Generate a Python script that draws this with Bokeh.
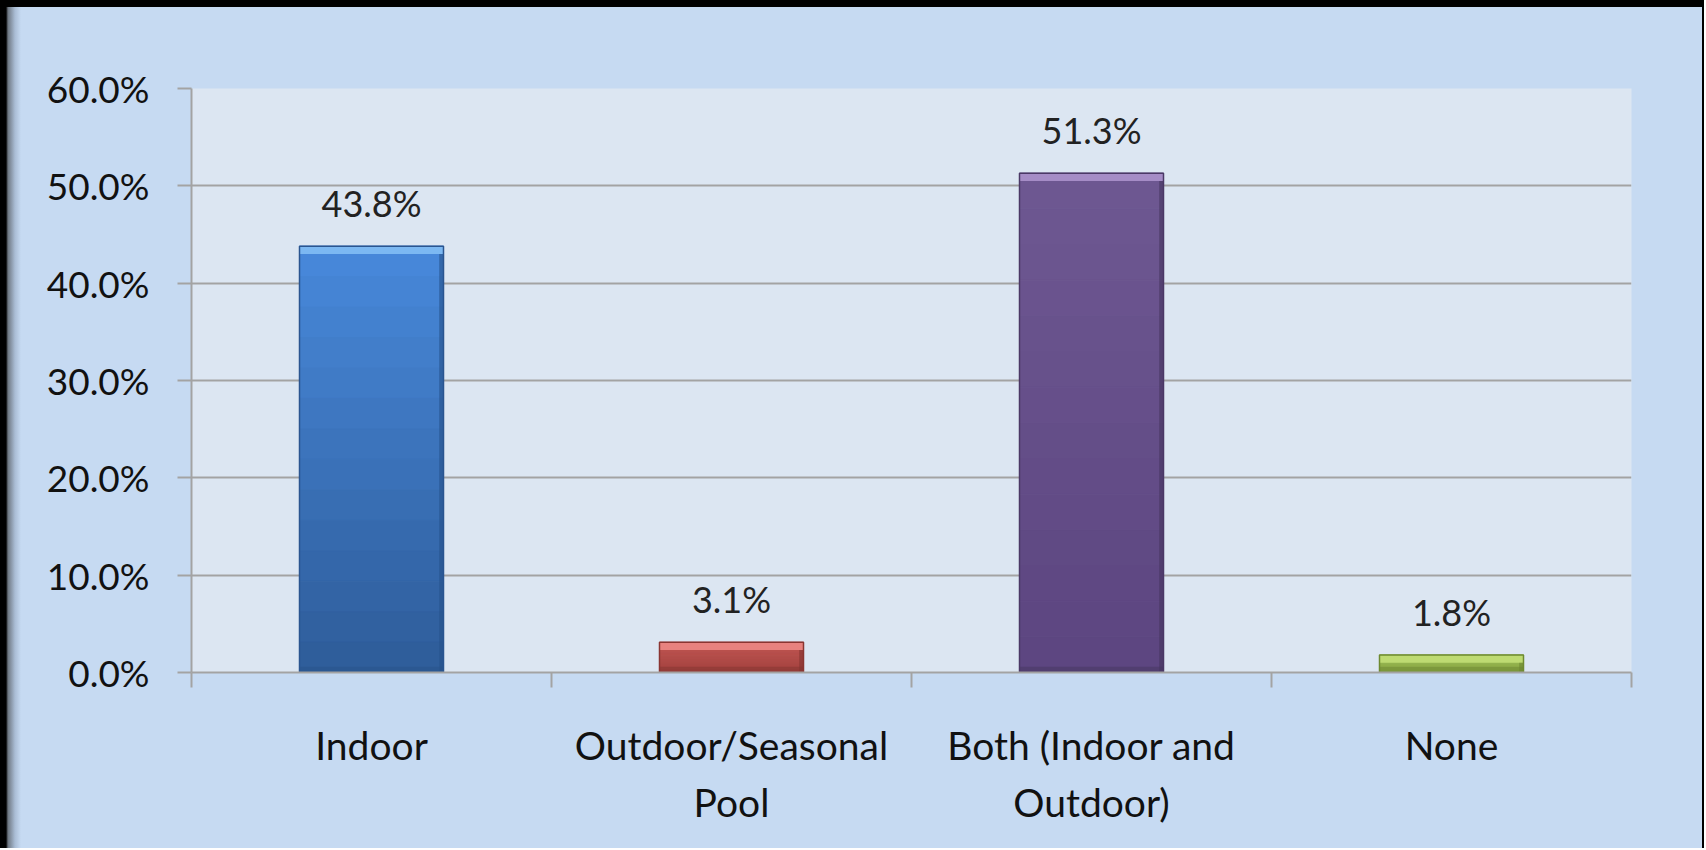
from bokeh.plotting import figure
from bokeh.layouts import column
from bokeh.models import (Range1d, LinearAxis, FixedTicker, NumeralTickFormatter, ColumnDataSource)
from bokeh.core.properties import value
from bokeh.embed import file_html
from bokeh.resources import INLINE

# ---- data ----
categories = ["Indoor", "Outdoor/Seasonal Pool", "Both (Indoor and Outdoor)", "None"]
cat_labels = ["Indoor", "Outdoor/Seasonal\nPool", "Both (Indoor and\nOutdoor)", "None"]
shares = [0.438, 0.031, 0.513, 0.018]
y_ticks = [0.0, 0.1, 0.2, 0.3, 0.4, 0.5, 0.6]

# ---- styles ----
top_colors = ["#4889db", "#c25653", "#6e5892", "#9dbd55"]
bottom_colors = ["#2e5c99", "#a3423f", "#5c4580", "#8aa845"]
hl_colors = ["#7cb8f2", "#e8827f", "#a58cc6", "#bedb72"]
dark_colors = ["#27518a", "#833330", "#46355f", "#6b8630"]
edge_colors = ["#2a5590", "#8a3532", "#4b3866", "#6e8a30"]
FONT = "Lato"
GRID = "#a3a3a3"
BAR_W = 0.4

n = len(categories)
centers = [i + 0.5 for i in range(n)]   # category slot centres on a 0..n axis

p = figure(x_range=Range1d(0, n), y_range=Range1d(0, 0.6),
           frame_width=1440, frame_height=584,
           min_border_left=191, min_border_top=88, min_border_right=73, min_border_bottom=176,
           output_backend="svg", toolbar_location=None, x_axis_location=None)
p.border_fill_alpha = 0
p.background_fill_color = "#dce6f2"
p.outline_line_color = None
p.xgrid.grid_line_color = None
p.ygrid.grid_line_color = GRID
p.ygrid.grid_line_width = 2
p.ygrid.ticker = FixedTicker(ticks=y_ticks)

# y axis
ya = p.yaxis[0]
ya.ticker = FixedTicker(ticks=y_ticks)
ya.formatter = NumeralTickFormatter(format="0.0%")
ya.axis_line_color = GRID
ya.axis_line_width = 2
ya.major_tick_line_color = GRID
ya.major_tick_line_width = 2
ya.major_tick_out = 14
ya.major_tick_in = 0
ya.minor_tick_line_color = None
ya.major_label_standoff = 28
ya.major_label_text_font = FONT
ya.major_label_text_font_size = "37px"
ya.major_label_text_color = "#111111"

# x boundary tick axis
ea = LinearAxis(ticker=FixedTicker(ticks=list(range(n + 1))))
ea.axis_line_color = GRID
ea.axis_line_width = 2
ea.major_tick_line_color = GRID
ea.major_tick_line_width = 2
ea.major_tick_out = 15
ea.major_tick_in = 0
ea.minor_tick_line_color = None
ea.major_label_text_font_size = "1px"
ea.major_label_text_alpha = 0
ea.major_label_standoff = 0
p.add_layout(ea, "below")

# category label axis
ca = LinearAxis(ticker=FixedTicker(ticks=centers))
ca.axis_line_color = None
ca.major_tick_line_color = None
ca.minor_tick_line_color = None
ca.major_label_standoff = 28
ca.major_label_text_font = FONT
ca.major_label_text_font_size = "39px"
ca.major_label_text_color = "#111111"
ca.major_label_text_line_height = 1.24
ca.major_label_overrides = {c: lab for c, lab in zip(centers, cat_labels)}
p.add_layout(ca, "below")

# bars with vertical gradient
def mix(c1, c2, t):
    a = [int(c1[i:i + 2], 16) for i in (1, 3, 5)]
    b = [int(c2[i:i + 2], 16) for i in (1, 3, 5)]
    return "#%02x%02x%02x" % tuple(round(a[k] + (b[k] - a[k]) * t) for k in range(3))

N = 14
for k in range(N):
    t0, t1 = k / N, (k + 1) / N
    src = ColumnDataSource(dict(
        x=centers,
        top=[v * (1 - t0) for v in shares],
        bottom=[v * (1 - t1) for v in shares],
        color=[mix(tc, bc, (t0 + t1) / 2) for tc, bc in zip(top_colors, bottom_colors)],
    ))
    p.vbar(x="x", top="top", bottom="bottom", width=BAR_W, fill_color="color",
           line_color="color", line_width=1, source=src)

# bevel: light top strip, dark right & bottom strips
hl = ColumnDataSource(dict(x=centers, top=shares, bottom=[v - 0.008 for v in shares], color=hl_colors))
p.vbar(x="x", top="top", bottom="bottom", width=BAR_W, fill_color="color", line_color=None, source=hl)

side = ColumnDataSource(dict(x=[c + BAR_W / 2 - 0.006 for c in centers], top=[v - 0.008 for v in shares],
                             color=dark_colors))
p.vbar(x="x", top="top", bottom=0, width=0.012, fill_color="color", fill_alpha=0.6,
       line_color=None, source=side)
base = ColumnDataSource(dict(x=centers, top=[min(0.006, v / 3) for v in shares], color=dark_colors))
p.vbar(x="x", top="top", bottom=0, width=BAR_W, fill_color="color", fill_alpha=0.5,
       line_color=None, source=base)

outline = ColumnDataSource(dict(x=centers, top=shares, color=edge_colors))
p.vbar(x="x", top="top", width=BAR_W, fill_color=None, line_color="color", line_width=1.5, source=outline)

# value labels
lab = ColumnDataSource(dict(x=centers, y=shares, t=["%.1f%%" % (v * 100) for v in shares]))
p.text(x="x", y="y", text="t", source=lab, text_align="center", text_baseline="middle",
       y_offset=-43, text_font=value(FONT), text_font_size="36px", text_color="#222222")

bg = ("linear-gradient(to bottom, #000 0px, #000 7px, rgba(0,0,0,0) 7px), "
      "linear-gradient(to right, #000 0px, #000 6px, #6f7883 8px, #aabdd5 15px, #c6daf2 21px, "
      "#c6daf2 calc(100% - 2px), #000 calc(100% - 2px))")
layout = column(p, styles={"background": bg})

open("out.html", "w").write(file_html(layout, INLINE))
